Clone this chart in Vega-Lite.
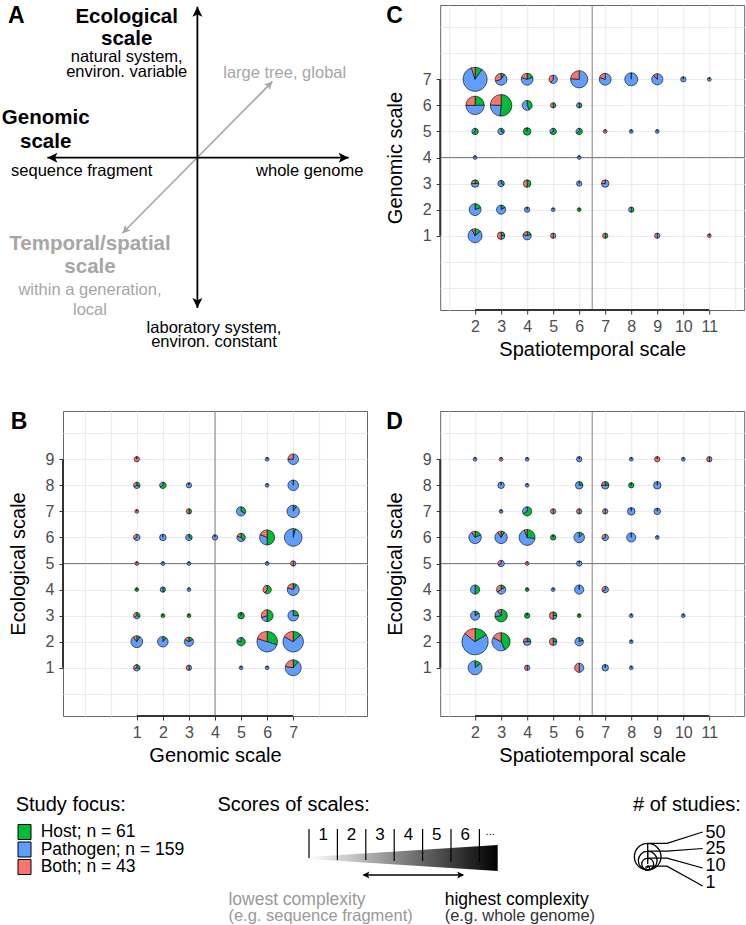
{
"$schema": "https://vega.github.io/schema/vega-lite/v6.json",
"padding": 0,
"autosize": {"type": "pad"},
"background": "white",
"columns": 2,
"bounds": "flush",
"spacing": {"row": 101, "column": 73.2},
"config": {
  "font": "Liberation Sans",
  "view": {"stroke": "#666666", "strokeWidth": 1},
  "axis": {"grid": true, "gridColor": "#EBEBEB", "gridWidth": 1.2, "domain": false,
    "labelFont": "Liberation Sans", "labelFontSize": 16, "labelColor": "#4D4D4D",
    "titleFont": "Liberation Sans", "titleFontSize": 20, "titleFontWeight": "normal", "titleColor": "black",
    "tickColor": "#333333", "tickSize": 4, "tickWidth": 1, "labelOverlap": false, "labelFlush": false, "labelBound": false},
  "axisX": {"labelPadding": 4, "titlePadding": 5},
  "axisY": {"labelPadding": 5, "titlePadding": 17},
  "text": {"font": "Liberation Sans"}
},
"datasets": {
  "pieC": [
    {"gx":2,"gy":7,"Host":4,"Pathogen":35,"Both":2},
    {"gx":3,"gy":7,"Host":1,"Pathogen":6,"Both":3},
    {"gx":4,"gy":7,"Host":2,"Pathogen":6,"Both":2},
    {"gx":5,"gy":7,"Host":0,"Pathogen":3,"Both":2},
    {"gx":6,"gy":7,"Host":0,"Pathogen":16,"Both":5},
    {"gx":7,"gy":7,"Host":0,"Pathogen":8,"Both":2},
    {"gx":8,"gy":7,"Host":0,"Pathogen":12,"Both":0},
    {"gx":9,"gy":7,"Host":0,"Pathogen":8,"Both":1},
    {"gx":10,"gy":7,"Host":0,"Pathogen":2,"Both":0},
    {"gx":11,"gy":7,"Host":0,"Pathogen":1,"Both":0},
    {"gx":2,"gy":6,"Host":6,"Pathogen":12,"Both":6},
    {"gx":3,"gy":6,"Host":17,"Pathogen":8,"Both":8},
    {"gx":4,"gy":6,"Host":3,"Pathogen":4,"Both":0},
    {"gx":5,"gy":6,"Host":1,"Pathogen":0,"Both":1},
    {"gx":6,"gy":6,"Host":1,"Pathogen":1,"Both":0},
    {"gx":2,"gy":5,"Host":2,"Pathogen":1,"Both":0},
    {"gx":3,"gy":5,"Host":1,"Pathogen":2,"Both":0},
    {"gx":4,"gy":5,"Host":4,"Pathogen":0,"Both":0},
    {"gx":5,"gy":5,"Host":2,"Pathogen":1,"Both":0},
    {"gx":6,"gy":5,"Host":2,"Pathogen":1,"Both":0},
    {"gx":7,"gy":5,"Host":0,"Pathogen":0,"Both":1},
    {"gx":8,"gy":5,"Host":0,"Pathogen":1,"Both":0},
    {"gx":9,"gy":5,"Host":0,"Pathogen":1,"Both":0},
    {"gx":2,"gy":4,"Host":0,"Pathogen":1,"Both":0},
    {"gx":6,"gy":4,"Host":0,"Pathogen":1,"Both":0},
    {"gx":2,"gy":3,"Host":1,"Pathogen":2,"Both":1},
    {"gx":3,"gy":3,"Host":1,"Pathogen":2,"Both":0},
    {"gx":4,"gy":3,"Host":2,"Pathogen":0,"Both":2},
    {"gx":6,"gy":3,"Host":0,"Pathogen":2,"Both":0},
    {"gx":7,"gy":3,"Host":0,"Pathogen":3,"Both":1},
    {"gx":2,"gy":2,"Host":2,"Pathogen":8,"Both":0},
    {"gx":3,"gy":2,"Host":1,"Pathogen":5,"Both":0},
    {"gx":4,"gy":2,"Host":0,"Pathogen":2,"Both":0},
    {"gx":5,"gy":2,"Host":0,"Pathogen":1,"Both":0},
    {"gx":6,"gy":2,"Host":1,"Pathogen":0,"Both":0},
    {"gx":8,"gy":2,"Host":1,"Pathogen":1,"Both":0},
    {"gx":2,"gy":1,"Host":2,"Pathogen":11,"Both":1},
    {"gx":3,"gy":1,"Host":1,"Pathogen":1,"Both":2},
    {"gx":4,"gy":1,"Host":1,"Pathogen":3,"Both":1},
    {"gx":5,"gy":1,"Host":0,"Pathogen":1,"Both":1},
    {"gx":7,"gy":1,"Host":1,"Pathogen":0,"Both":1},
    {"gx":9,"gy":1,"Host":0,"Pathogen":1,"Both":1},
    {"gx":11,"gy":1,"Host":0,"Pathogen":0,"Both":1}
  ],
  "pieB": [
    {"gx":1,"gy":9,"Host":0,"Pathogen":0,"Both":2},
    {"gx":6,"gy":9,"Host":0,"Pathogen":1,"Both":0},
    {"gx":7,"gy":9,"Host":0,"Pathogen":6,"Both":2},
    {"gx":1,"gy":8,"Host":1,"Pathogen":1,"Both":1},
    {"gx":2,"gy":8,"Host":2,"Pathogen":1,"Both":0},
    {"gx":3,"gy":8,"Host":0,"Pathogen":2,"Both":0},
    {"gx":6,"gy":8,"Host":0,"Pathogen":1,"Both":0},
    {"gx":7,"gy":8,"Host":0,"Pathogen":8,"Both":0},
    {"gx":1,"gy":7,"Host":0,"Pathogen":0,"Both":1},
    {"gx":3,"gy":7,"Host":1,"Pathogen":0,"Both":1},
    {"gx":5,"gy":7,"Host":2,"Pathogen":4,"Both":0},
    {"gx":7,"gy":7,"Host":1,"Pathogen":10,"Both":0},
    {"gx":1,"gy":6,"Host":0,"Pathogen":2,"Both":1},
    {"gx":2,"gy":6,"Host":0,"Pathogen":3,"Both":0},
    {"gx":3,"gy":6,"Host":1,"Pathogen":2,"Both":0},
    {"gx":4,"gy":6,"Host":0,"Pathogen":2,"Both":0},
    {"gx":5,"gy":6,"Host":2,"Pathogen":2,"Both":1},
    {"gx":6,"gy":6,"Host":8,"Pathogen":5,"Both":3},
    {"gx":7,"gy":6,"Host":1,"Pathogen":21,"Both":0},
    {"gx":1,"gy":5,"Host":0,"Pathogen":0,"Both":1},
    {"gx":2,"gy":5,"Host":0,"Pathogen":1,"Both":0},
    {"gx":3,"gy":5,"Host":0,"Pathogen":1,"Both":0},
    {"gx":6,"gy":5,"Host":0,"Pathogen":1,"Both":0},
    {"gx":7,"gy":5,"Host":0,"Pathogen":1,"Both":1},
    {"gx":1,"gy":4,"Host":1,"Pathogen":0,"Both":0},
    {"gx":2,"gy":4,"Host":1,"Pathogen":1,"Both":0},
    {"gx":3,"gy":4,"Host":0,"Pathogen":1,"Both":0},
    {"gx":6,"gy":4,"Host":3,"Pathogen":0,"Both":2},
    {"gx":7,"gy":4,"Host":1,"Pathogen":7,"Both":2},
    {"gx":1,"gy":3,"Host":1,"Pathogen":1,"Both":1},
    {"gx":2,"gy":3,"Host":1,"Pathogen":0,"Both":0},
    {"gx":3,"gy":3,"Host":1,"Pathogen":0,"Both":0},
    {"gx":5,"gy":3,"Host":3,"Pathogen":0,"Both":0},
    {"gx":6,"gy":3,"Host":5,"Pathogen":2,"Both":3},
    {"gx":7,"gy":3,"Host":2,"Pathogen":6,"Both":0},
    {"gx":1,"gy":2,"Host":1,"Pathogen":8,"Both":1},
    {"gx":2,"gy":2,"Host":1,"Pathogen":7,"Both":0},
    {"gx":3,"gy":2,"Host":1,"Pathogen":4,"Both":1},
    {"gx":5,"gy":2,"Host":4,"Pathogen":1,"Both":0},
    {"gx":6,"gy":2,"Host":9,"Pathogen":15,"Both":6},
    {"gx":7,"gy":2,"Host":4,"Pathogen":21,"Both":5},
    {"gx":1,"gy":1,"Host":1,"Pathogen":1,"Both":1},
    {"gx":3,"gy":1,"Host":0,"Pathogen":1,"Both":1},
    {"gx":5,"gy":1,"Host":0,"Pathogen":1,"Both":0},
    {"gx":6,"gy":1,"Host":0,"Pathogen":1,"Both":0},
    {"gx":7,"gy":1,"Host":2,"Pathogen":12,"Both":4}
  ],
  "pieD": [
    {"gx":2,"gy":9,"Host":0,"Pathogen":1,"Both":0},
    {"gx":3,"gy":9,"Host":0,"Pathogen":0,"Both":1},
    {"gx":4,"gy":9,"Host":0,"Pathogen":1,"Both":0},
    {"gx":6,"gy":9,"Host":0,"Pathogen":2,"Both":0},
    {"gx":8,"gy":9,"Host":0,"Pathogen":1,"Both":0},
    {"gx":9,"gy":9,"Host":0,"Pathogen":0,"Both":2},
    {"gx":10,"gy":9,"Host":0,"Pathogen":1,"Both":0},
    {"gx":11,"gy":9,"Host":0,"Pathogen":1,"Both":1},
    {"gx":3,"gy":8,"Host":0,"Pathogen":3,"Both":0},
    {"gx":4,"gy":8,"Host":0,"Pathogen":1,"Both":0},
    {"gx":6,"gy":8,"Host":1,"Pathogen":3,"Both":0},
    {"gx":7,"gy":8,"Host":1,"Pathogen":2,"Both":1},
    {"gx":8,"gy":8,"Host":2,"Pathogen":0,"Both":0},
    {"gx":9,"gy":8,"Host":0,"Pathogen":4,"Both":0},
    {"gx":3,"gy":7,"Host":0,"Pathogen":1,"Both":0},
    {"gx":4,"gy":7,"Host":4,"Pathogen":2,"Both":0},
    {"gx":5,"gy":7,"Host":0,"Pathogen":1,"Both":1},
    {"gx":6,"gy":7,"Host":0,"Pathogen":1,"Both":1},
    {"gx":7,"gy":7,"Host":0,"Pathogen":1,"Both":1},
    {"gx":8,"gy":7,"Host":0,"Pathogen":4,"Both":0},
    {"gx":9,"gy":7,"Host":0,"Pathogen":3,"Both":0},
    {"gx":2,"gy":6,"Host":2,"Pathogen":8,"Both":1},
    {"gx":3,"gy":6,"Host":1,"Pathogen":9,"Both":1},
    {"gx":4,"gy":6,"Host":5,"Pathogen":12,"Both":1},
    {"gx":5,"gy":6,"Host":2,"Pathogen":0,"Both":0},
    {"gx":6,"gy":6,"Host":1,"Pathogen":7,"Both":0},
    {"gx":7,"gy":6,"Host":0,"Pathogen":2,"Both":1},
    {"gx":8,"gy":6,"Host":0,"Pathogen":6,"Both":0},
    {"gx":9,"gy":6,"Host":0,"Pathogen":1,"Both":0},
    {"gx":3,"gy":5,"Host":0,"Pathogen":2,"Both":1},
    {"gx":4,"gy":5,"Host":0,"Pathogen":0,"Both":1},
    {"gx":6,"gy":5,"Host":0,"Pathogen":2,"Both":0},
    {"gx":2,"gy":4,"Host":3,"Pathogen":3,"Both":0},
    {"gx":3,"gy":4,"Host":1,"Pathogen":3,"Both":2},
    {"gx":4,"gy":4,"Host":1,"Pathogen":0,"Both":0},
    {"gx":5,"gy":4,"Host":0,"Pathogen":1,"Both":0},
    {"gx":6,"gy":4,"Host":0,"Pathogen":6,"Both":0},
    {"gx":7,"gy":4,"Host":0,"Pathogen":2,"Both":1},
    {"gx":2,"gy":3,"Host":1,"Pathogen":5,"Both":0},
    {"gx":3,"gy":3,"Host":8,"Pathogen":2,"Both":1},
    {"gx":4,"gy":3,"Host":2,"Pathogen":0,"Both":0},
    {"gx":5,"gy":3,"Host":1,"Pathogen":1,"Both":2},
    {"gx":6,"gy":3,"Host":1,"Pathogen":0,"Both":0},
    {"gx":8,"gy":3,"Host":0,"Pathogen":1,"Both":0},
    {"gx":10,"gy":3,"Host":0,"Pathogen":1,"Both":0},
    {"gx":2,"gy":2,"Host":8,"Pathogen":34,"Both":7},
    {"gx":3,"gy":2,"Host":10,"Pathogen":9,"Both":4},
    {"gx":4,"gy":2,"Host":1,"Pathogen":2,"Both":1},
    {"gx":5,"gy":2,"Host":1,"Pathogen":1,"Both":2},
    {"gx":6,"gy":2,"Host":1,"Pathogen":4,"Both":0},
    {"gx":8,"gy":2,"Host":0,"Pathogen":1,"Both":0},
    {"gx":2,"gy":1,"Host":2,"Pathogen":12,"Both":0},
    {"gx":4,"gy":1,"Host":0,"Pathogen":1,"Both":1},
    {"gx":6,"gy":1,"Host":0,"Pathogen":3,"Both":3},
    {"gx":7,"gy":1,"Host":0,"Pathogen":3,"Both":0},
    {"gx":8,"gy":1,"Host":0,"Pathogen":1,"Both":0}
  ]
},
"concat": [
  {
    "width": 304, "height": 305, "view": {"stroke": null},
    "encoding": {
      "x": {"field": "x", "type": "quantitative", "stack": null, "scale": {"domain": [-0.896, 1.1307], "nice": false, "zero": false}, "axis": null},
      "y": {"field": "y", "type": "quantitative", "stack": null, "scale": {"domain": [-1.0153, 1.018], "nice": false, "zero": false}, "axis": null}
    },
    "layer": [
      {"data": {"values": [{"x": -1.3073, "y": 1.0473}]}, "mark": {"type": "point", "size": 1, "opacity": 0, "filled": true}},
      {"data": {"values": [{"x": -0.5, "y": -0.504, "x2": 0.5, "y2": 0.507}]},
       "mark": {"type": "rule", "color": "#A6A6A6", "strokeWidth": 1.6},
       "encoding": {"x2": {"field": "x2"}, "y2": {"field": "y2"}}},
      {"data": {"values": [{"x": 0, "y": -1.002, "x2": 0, "y2": 1.0067}, {"x": -1.0, "y": 0, "x2": 1.0087, "y2": 0}]},
       "mark": {"type": "rule", "color": "black", "strokeWidth": 1.8},
       "encoding": {"x2": {"field": "x2"}, "y2": {"field": "y2"}}},
      {"data": {"values": [{"x": 0.5, "y": 0.507}]},
       "mark": {"type": "point", "shape": "M0,0L0.65,1.3L0,1L-0.65,1.3Z", "angle": 45, "filled": true, "color": "#A6A6A6", "opacity": 1, "size": 150, "strokeWidth": 0}},
      {"data": {"values": [{"x": -0.5, "y": -0.504}]},
       "mark": {"type": "point", "shape": "M0,0L0.65,1.3L0,1L-0.65,1.3Z", "angle": 225, "filled": true, "color": "#A6A6A6", "opacity": 1, "size": 150, "strokeWidth": 0}},
      {"data": {"values": [{"x": 0, "y": 1.0067}]},
       "mark": {"type": "point", "shape": "M0,0L0.65,1.3L0,1L-0.65,1.3Z", "angle": 0, "filled": true, "color": "black", "opacity": 1, "size": 237, "strokeWidth": 0}},
      {"data": {"values": [{"x": 1.0087, "y": 0}]},
       "mark": {"type": "point", "shape": "M0,0L0.65,1.3L0,1L-0.65,1.3Z", "angle": 90, "filled": true, "color": "black", "opacity": 1, "size": 237, "strokeWidth": 0}},
      {"data": {"values": [{"x": 0, "y": -1.002}]},
       "mark": {"type": "point", "shape": "M0,0L0.65,1.3L0,1L-0.65,1.3Z", "angle": 180, "filled": true, "color": "black", "opacity": 1, "size": 237, "strokeWidth": 0}},
      {"data": {"values": [{"x": -1.0, "y": 0}]},
       "mark": {"type": "point", "shape": "M0,0L0.65,1.3L0,1L-0.65,1.3Z", "angle": 270, "filled": true, "color": "black", "opacity": 1, "size": 237, "strokeWidth": 0}},
      {"data": {"values": [
         {"x": -0.4713, "y": 0.94, "t": "Ecological"}, {"x": -0.4713, "y": 0.7913, "t": "scale"},
         {"x": -1.0113, "y": 0.2627, "t": "Genomic"}, {"x": -1.0113, "y": 0.1067, "t": "scale"}]},
       "mark": {"type": "text", "fontSize": 20.5, "fontWeight": "bold", "color": "black", "align": "center", "baseline": "middle"},
       "encoding": {"text": {"field": "t"}}},
      {"data": {"values": [
         {"x": -0.4713, "y": 0.6693, "t": "natural system,"}, {"x": -0.4713, "y": 0.5733, "t": "environ. variable"},
         {"x": -0.7713, "y": -0.0887, "t": "sequence fragment"}, {"x": 0.7487, "y": -0.0887, "t": "whole genome"},
         {"x": 0.1107, "y": -1.1333, "t": "laboratory system,"}, {"x": 0.1107, "y": -1.2267, "t": "environ. constant"}]},
       "mark": {"type": "text", "fontSize": 16.5, "color": "black", "align": "center", "baseline": "middle"},
       "encoding": {"text": {"field": "t"}}},
      {"data": {"values": [
         {"x": -0.716, "y": -0.5773, "t": "Temporal/spatial"}, {"x": -0.716, "y": -0.7267, "t": "scale"}]},
       "mark": {"type": "text", "fontSize": 20.5, "fontWeight": "bold", "color": "#A6A6A6", "align": "center", "baseline": "middle"},
       "encoding": {"text": {"field": "t"}}},
      {"data": {"values": [
         {"x": 0.582, "y": 0.5667, "t": "large tree, global"},
         {"x": -0.716, "y": -0.882, "t": "within a generation,"}, {"x": -0.716, "y": -1.0153, "t": "local"}]},
       "mark": {"type": "text", "fontSize": 16.5, "color": "#A6A6A6", "align": "center", "baseline": "middle"},
       "encoding": {"text": {"field": "t"}}},
      {"data": {"values": [{"x": -1.2627, "y": 0.9, "t": "A"}]},
       "mark": {"type": "text", "fontSize": 23, "fontWeight": "bold", "color": "black", "align": "left", "baseline": "alphabetic"},
       "encoding": {"text": {"field": "t"}}}
    ]
  },
  {
    "width": 304, "height": 305,
    "encoding": {
      "x": {"field": "gx", "type": "quantitative", "stack": null, "scale": {"domain": [0.66, 12.34], "nice": false, "zero": false},
        "axis": {"title": "Spatiotemporal scale", "values": [1,2,3,4,5,6,7,8,9,10,11,12],
          "labelExpr": "datum.value >= 2 && datum.value <= 11 ? datum.label : ''",
          "tickOpacity": {"condition": {"test": "datum.value >= 2 && datum.value <= 11", "value": 1}, "value": 0}}},
      "y": {"field": "gy", "type": "quantitative", "stack": null, "scale": {"domain": [-1.85, 9.85], "nice": false, "zero": false},
        "axis": {"title": "Genomic scale", "values": [-1,0,1,2,3,4,5,6,7,8,9],
          "labelExpr": "datum.value >= 1 && datum.value <= 7 ? datum.label : ''",
          "tickOpacity": {"condition": {"test": "datum.value >= 1 && datum.value <= 7", "value": 1}, "value": 0}}}
    },
    "layer": [
      {"data": {"values": [{"gx": 6.5, "gy": -1.85, "gy2": 9.85}]}, "mark": {"type": "rule", "color": "#808080", "strokeWidth": 1}, "encoding": {"y2": {"field": "gy2"}}},
      {"data": {"values": [{"gx": 0.66, "gx2": 12.34, "gy": 4}]}, "mark": {"type": "rule", "color": "#808080", "strokeWidth": 1}, "encoding": {"x2": {"field": "gx2"}}},
      {"data": {"values": [{"gx": 2, "gx2": 11, "gy": -1.85}]}, "mark": {"type": "rule", "color": "#333333", "strokeWidth": 2}, "encoding": {"x2": {"field": "gx2"}}},
      {"data": {"values": [{"gx": 0.66, "gy": 1, "gy2": 7}]}, "mark": {"type": "rule", "color": "#333333", "strokeWidth": 2}, "encoding": {"y2": {"field": "gy2"}}},
      {"data": {"name": "pieC"},
       "transform": [
         {"fold": ["Host", "Pathogen", "Both"], "as": ["focus", "n"]},
         {"filter": "datum.n > 0"},
         {"calculate": "indexof(['Host','Pathogen','Both'], datum.focus)", "as": "ord"},
         {"stack": "n", "groupby": ["gx", "gy"], "sort": [{"field": "ord", "order": "ascending"}], "offset": "normalize", "as": ["t0", "t1"]},
         {"joinaggregate": [{"op": "sum", "field": "n", "as": "total"}], "groupby": ["gx", "gy"]}
       ],
       "mark": {"type": "arc", "stroke": "black", "strokeWidth": 0.6},
       "encoding": {
         "theta": {"field": "t0", "type": "quantitative", "stack": null, "scale": {"domain": [0, 1], "range": [0, 6.283185]}},
         "theta2": {"field": "t1"},
         "radius": {"field": "total", "type": "quantitative", "stack": null, "scale": {"type": "sqrt", "domain": [0, 50], "range": [0, 13.3], "zero": true}},
         "color": {"field": "focus", "type": "nominal", "scale": {"domain": ["Host", "Pathogen", "Both"], "range": ["#00BA38", "#619CFF", "#F8766D"]}, "legend": null}
       }},
      {"data": {"values": [{"gx": -1.411, "gy": 9.16, "t": "C"}]},
       "mark": {"type": "text", "fontSize": 23, "fontWeight": "bold", "color": "black", "align": "left", "baseline": "alphabetic"},
       "encoding": {"text": {"field": "t"}}}
    ]
  },
  {
    "width": 304, "height": 305,
    "encoding": {
      "x": {"field": "gx", "type": "quantitative", "stack": null, "scale": {"domain": [-1.83, 9.83], "nice": false, "zero": false},
        "axis": {"title": "Genomic scale", "values": [-1,0,1,2,3,4,5,6,7,8,9],
          "labelExpr": "datum.value >= 1 && datum.value <= 7 ? datum.label : ''",
          "tickOpacity": {"condition": {"test": "datum.value >= 1 && datum.value <= 7", "value": 1}, "value": 0}}},
      "y": {"field": "gy", "type": "quantitative", "stack": null, "scale": {"domain": [-0.85, 10.85], "nice": false, "zero": false},
        "axis": {"title": "Ecological scale", "values": [0,1,2,3,4,5,6,7,8,9,10],
          "labelExpr": "datum.value >= 1 && datum.value <= 9 ? datum.label : ''",
          "tickOpacity": {"condition": {"test": "datum.value >= 1 && datum.value <= 9", "value": 1}, "value": 0}}}
    },
    "layer": [
      {"data": {"values": [{"gx": 4, "gy": -0.85, "gy2": 10.85}]}, "mark": {"type": "rule", "color": "#808080", "strokeWidth": 1}, "encoding": {"y2": {"field": "gy2"}}},
      {"data": {"values": [{"gx": -1.83, "gx2": 9.83, "gy": 5}]}, "mark": {"type": "rule", "color": "#808080", "strokeWidth": 1}, "encoding": {"x2": {"field": "gx2"}}},
      {"data": {"values": [{"gx": 1, "gx2": 7, "gy": -0.85}]}, "mark": {"type": "rule", "color": "#333333", "strokeWidth": 2}, "encoding": {"x2": {"field": "gx2"}}},
      {"data": {"values": [{"gx": -1.83, "gy": 1, "gy2": 9}]}, "mark": {"type": "rule", "color": "#333333", "strokeWidth": 2}, "encoding": {"y2": {"field": "gy2"}}},
      {"data": {"name": "pieB"},
       "transform": [
         {"fold": ["Host", "Pathogen", "Both"], "as": ["focus", "n"]},
         {"filter": "datum.n > 0"},
         {"calculate": "indexof(['Host','Pathogen','Both'], datum.focus)", "as": "ord"},
         {"stack": "n", "groupby": ["gx", "gy"], "sort": [{"field": "ord", "order": "ascending"}], "offset": "normalize", "as": ["t0", "t1"]},
         {"joinaggregate": [{"op": "sum", "field": "n", "as": "total"}], "groupby": ["gx", "gy"]}
       ],
       "mark": {"type": "arc", "stroke": "black", "strokeWidth": 0.6},
       "encoding": {
         "theta": {"field": "t0", "type": "quantitative", "stack": null, "scale": {"domain": [0, 1], "range": [0, 6.283185]}},
         "theta2": {"field": "t1"},
         "radius": {"field": "total", "type": "quantitative", "stack": null, "scale": {"type": "sqrt", "domain": [0, 50], "range": [0, 13.3], "zero": true}},
         "color": {"field": "focus", "type": "nominal", "scale": {"domain": ["Host", "Pathogen", "Both"], "range": ["#00BA38", "#619CFF", "#F8766D"]}, "legend": null}
       }},
      {"data": {"values": [{"gx": -3.836, "gy": 10.16, "t": "B"}]},
       "mark": {"type": "text", "fontSize": 23, "fontWeight": "bold", "color": "black", "align": "left", "baseline": "alphabetic"},
       "encoding": {"text": {"field": "t"}}}
    ]
  },
  {
    "width": 304, "height": 305,
    "encoding": {
      "x": {"field": "gx", "type": "quantitative", "stack": null, "scale": {"domain": [0.66, 12.34], "nice": false, "zero": false},
        "axis": {"title": "Spatiotemporal scale", "values": [1,2,3,4,5,6,7,8,9,10,11,12],
          "labelExpr": "datum.value >= 2 && datum.value <= 11 ? datum.label : ''",
          "tickOpacity": {"condition": {"test": "datum.value >= 2 && datum.value <= 11", "value": 1}, "value": 0}}},
      "y": {"field": "gy", "type": "quantitative", "stack": null, "scale": {"domain": [-0.85, 10.85], "nice": false, "zero": false},
        "axis": {"title": "Ecological scale", "values": [0,1,2,3,4,5,6,7,8,9,10],
          "labelExpr": "datum.value >= 1 && datum.value <= 9 ? datum.label : ''",
          "tickOpacity": {"condition": {"test": "datum.value >= 1 && datum.value <= 9", "value": 1}, "value": 0}}}
    },
    "layer": [
      {"data": {"values": [{"gx": 6.5, "gy": -0.85, "gy2": 10.85}]}, "mark": {"type": "rule", "color": "#808080", "strokeWidth": 1}, "encoding": {"y2": {"field": "gy2"}}},
      {"data": {"values": [{"gx": 0.66, "gx2": 12.34, "gy": 5}]}, "mark": {"type": "rule", "color": "#808080", "strokeWidth": 1}, "encoding": {"x2": {"field": "gx2"}}},
      {"data": {"values": [{"gx": 2, "gx2": 11, "gy": -0.85}]}, "mark": {"type": "rule", "color": "#333333", "strokeWidth": 2}, "encoding": {"x2": {"field": "gx2"}}},
      {"data": {"values": [{"gx": 0.66, "gy": 1, "gy2": 9}]}, "mark": {"type": "rule", "color": "#333333", "strokeWidth": 2}, "encoding": {"y2": {"field": "gy2"}}},
      {"data": {"name": "pieD"},
       "transform": [
         {"fold": ["Host", "Pathogen", "Both"], "as": ["focus", "n"]},
         {"filter": "datum.n > 0"},
         {"calculate": "indexof(['Host','Pathogen','Both'], datum.focus)", "as": "ord"},
         {"stack": "n", "groupby": ["gx", "gy"], "sort": [{"field": "ord", "order": "ascending"}], "offset": "normalize", "as": ["t0", "t1"]},
         {"joinaggregate": [{"op": "sum", "field": "n", "as": "total"}], "groupby": ["gx", "gy"]}
       ],
       "mark": {"type": "arc", "stroke": "black", "strokeWidth": 0.6},
       "encoding": {
         "theta": {"field": "t0", "type": "quantitative", "stack": null, "scale": {"domain": [0, 1], "range": [0, 6.283185]}},
         "theta2": {"field": "t1"},
         "radius": {"field": "total", "type": "quantitative", "stack": null, "scale": {"type": "sqrt", "domain": [0, 50], "range": [0, 13.3], "zero": true}},
         "color": {"field": "focus", "type": "nominal", "scale": {"domain": ["Host", "Pathogen", "Both"], "range": ["#00BA38", "#619CFF", "#F8766D"]}, "legend": null}
       }},
      {"data": {"values": [{"gx": -1.411, "gy": 10.16, "t": "D"}]},
       "mark": {"type": "text", "fontSize": 23, "fontWeight": "bold", "color": "black", "align": "left", "baseline": "alphabetic"},
       "encoding": {"text": {"field": "t"}}}
    ]
  },
  {
    "width": 304, "height": 100, "view": {"stroke": null},
    "encoding": {
      "x": {"field": "x", "type": "quantitative", "stack": null, "scale": {"domain": [62.3, 366.3], "nice": false, "zero": false}, "axis": null},
      "y": {"field": "y", "type": "quantitative", "stack": null, "scale": {"domain": [817, 917], "nice": false, "zero": false, "reverse": true}, "axis": null}
    },
    "layer": [
      {"data": {"values": [
         {"x": 17.3, "x2": 30.3, "y": 824.5, "y2": 839.5, "focus": "Host"},
         {"x": 17.3, "x2": 30.3, "y": 842, "y2": 857, "focus": "Pathogen"},
         {"x": 17.3, "x2": 30.3, "y": 859.5, "y2": 874.5, "focus": "Both"}]},
       "mark": {"type": "rect", "stroke": "black", "strokeWidth": 1},
       "encoding": {"x2": {"field": "x2"}, "y2": {"field": "y2"},
         "color": {"field": "focus", "type": "nominal", "scale": {"domain": ["Host", "Pathogen", "Both"], "range": ["#00BA38", "#619CFF", "#F8766D"]}, "legend": null}}},
      {"data": {"values": [{"x": 308.3, "y": 857, "y2": 859}, {"x": 497, "y": 845, "y2": 871}]},
       "mark": {"type": "area", "orient": "vertical", "fill": {"gradient": "linear", "x1": 0, "y1": 0, "x2": 1, "y2": 0, "stops": [{"offset": 0, "color": "#ffffff"}, {"offset": 1, "color": "#000000"}]}},
       "encoding": {"y2": {"field": "y2"}}},
      {"data": {"values": [
         {"x": 308.3, "y": 829, "y2": 858}, {"x": 336.7, "y": 829, "y2": 860}, {"x": 365.1, "y": 829, "y2": 860},
         {"x": 393.5, "y": 829, "y2": 861}, {"x": 421.9, "y": 829, "y2": 861}, {"x": 450.3, "y": 829, "y2": 862}, {"x": 478.7, "y": 829, "y2": 862}]},
       "mark": {"type": "rule", "color": "black", "strokeWidth": 1.2},
       "encoding": {"y2": {"field": "y2"}}},
      {"data": {"values": [{"x": 363, "x2": 462, "y": 875}]},
       "mark": {"type": "rule", "color": "black", "strokeWidth": 1.5},
       "encoding": {"x2": {"field": "x2"}}},
      {"data": {"values": [{"x": 361.7, "y": 875}]},
       "mark": {"type": "point", "shape": "M0,0L0.65,1.3L0,1L-0.65,1.3Z", "angle": 270, "filled": true, "color": "black", "opacity": 1, "size": 117, "strokeWidth": 0}},
      {"data": {"values": [{"x": 463.5, "y": 875}]},
       "mark": {"type": "point", "shape": "M0,0L0.65,1.3L0,1L-0.65,1.3Z", "angle": 90, "filled": true, "color": "black", "opacity": 1, "size": 117, "strokeWidth": 0}},
      {"data": {"values": [{"x": 647, "y": 856.7, "n": 50}, {"x": 647, "y": 860.6, "n": 25}, {"x": 647, "y": 864.1, "n": 10}, {"x": 647, "y": 868.1, "n": 1}]},
       "mark": {"type": "arc", "fillOpacity": 0, "stroke": "black", "strokeWidth": 1.3},
       "encoding": {
         "theta": {"value": 0}, "theta2": {"value": 6.283185},
         "radius": {"field": "n", "type": "quantitative", "stack": null, "scale": {"type": "sqrt", "domain": [0, 50], "range": [0, 13.3], "zero": true}}
       }},
      {"data": {"values": [
         {"x": 647, "y": 843.4, "g": 50, "o": 1}, {"x": 666.3, "y": 843.4, "g": 50, "o": 2}, {"x": 702, "y": 832, "g": 50, "o": 3},
         {"x": 647, "y": 851.2, "g": 25, "o": 1}, {"x": 666.3, "y": 851.2, "g": 25, "o": 2}, {"x": 702, "y": 848.5, "g": 25, "o": 3},
         {"x": 647, "y": 858.1, "g": 10, "o": 1}, {"x": 666.3, "y": 858.1, "g": 10, "o": 2}, {"x": 702, "y": 868, "g": 10, "o": 3},
         {"x": 647, "y": 866.2, "g": 1, "o": 1}, {"x": 666.3, "y": 866.2, "g": 1, "o": 2}, {"x": 702, "y": 886, "g": 1, "o": 3}]},
       "mark": {"type": "line", "color": "black", "strokeWidth": 1.2},
       "encoding": {"detail": {"field": "g", "type": "nominal"}, "order": {"field": "o", "type": "quantitative"}}},
      {"data": {"values": [
         {"x": 15, "y": 805, "t": "Study focus:"}, {"x": 216.7, "y": 805, "t": "Scores of scales:"}, {"x": 632.3, "y": 805, "t": "# of studies:"}]},
       "mark": {"type": "text", "fontSize": 20, "color": "black", "align": "left", "baseline": "middle"},
       "encoding": {"text": {"field": "t"}}},
      {"data": {"values": [
         {"x": 704.7, "y": 833.3, "t": "50"}, {"x": 704.7, "y": 849.3, "t": "25"}, {"x": 704.7, "y": 865.8, "t": "10"}, {"x": 704.7, "y": 883, "t": "1"}]},
       "mark": {"type": "text", "fontSize": 18, "color": "black", "align": "left", "baseline": "middle"},
       "encoding": {"text": {"field": "t"}}},
      {"data": {"values": [
         {"x": 40, "y": 831.7, "t": "Host; n = 61"}, {"x": 40, "y": 849.7, "t": "Pathogen; n = 159"}, {"x": 40, "y": 867.3, "t": "Both; n = 43"},
         {"x": 444, "y": 900, "t": "highest complexity"}]},
       "mark": {"type": "text", "fontSize": 17.5, "color": "black", "align": "left", "baseline": "middle"},
       "encoding": {"text": {"field": "t"}}},
      {"data": {"values": [{"x": 444, "y": 915.5, "t": "(e.g. whole genome)"}]},
       "mark": {"type": "text", "fontSize": 16.5, "color": "#333333", "align": "left", "baseline": "middle"},
       "encoding": {"text": {"field": "t"}}},
      {"data": {"values": [{"x": 227.7, "y": 900, "t": "lowest complexity"}]},
       "mark": {"type": "text", "fontSize": 17.5, "color": "#999999", "align": "left", "baseline": "middle"},
       "encoding": {"text": {"field": "t"}}},
      {"data": {"values": [{"x": 227.7, "y": 915.5, "t": "(e.g. sequence fragment)"}]},
       "mark": {"type": "text", "fontSize": 16.5, "color": "#999999", "align": "left", "baseline": "middle"},
       "encoding": {"text": {"field": "t"}}},
      {"data": {"values": [
         {"x": 322.5, "y": 835, "t": "1"}, {"x": 350.9, "y": 835, "t": "2"}, {"x": 379.3, "y": 835, "t": "3"},
         {"x": 407.7, "y": 835, "t": "4"}, {"x": 436.1, "y": 835, "t": "5"}, {"x": 464.5, "y": 835, "t": "6"}]},
       "mark": {"type": "text", "fontSize": 17, "color": "black", "align": "center", "baseline": "middle"},
       "encoding": {"text": {"field": "t"}}},
      {"data": {"values": [{"x": 489.5, "y": 832, "t": "..."}]},
       "mark": {"type": "text", "fontSize": 11, "color": "black", "align": "center", "baseline": "middle"},
       "encoding": {"text": {"field": "t"}}}
    ]
  }
]
}
